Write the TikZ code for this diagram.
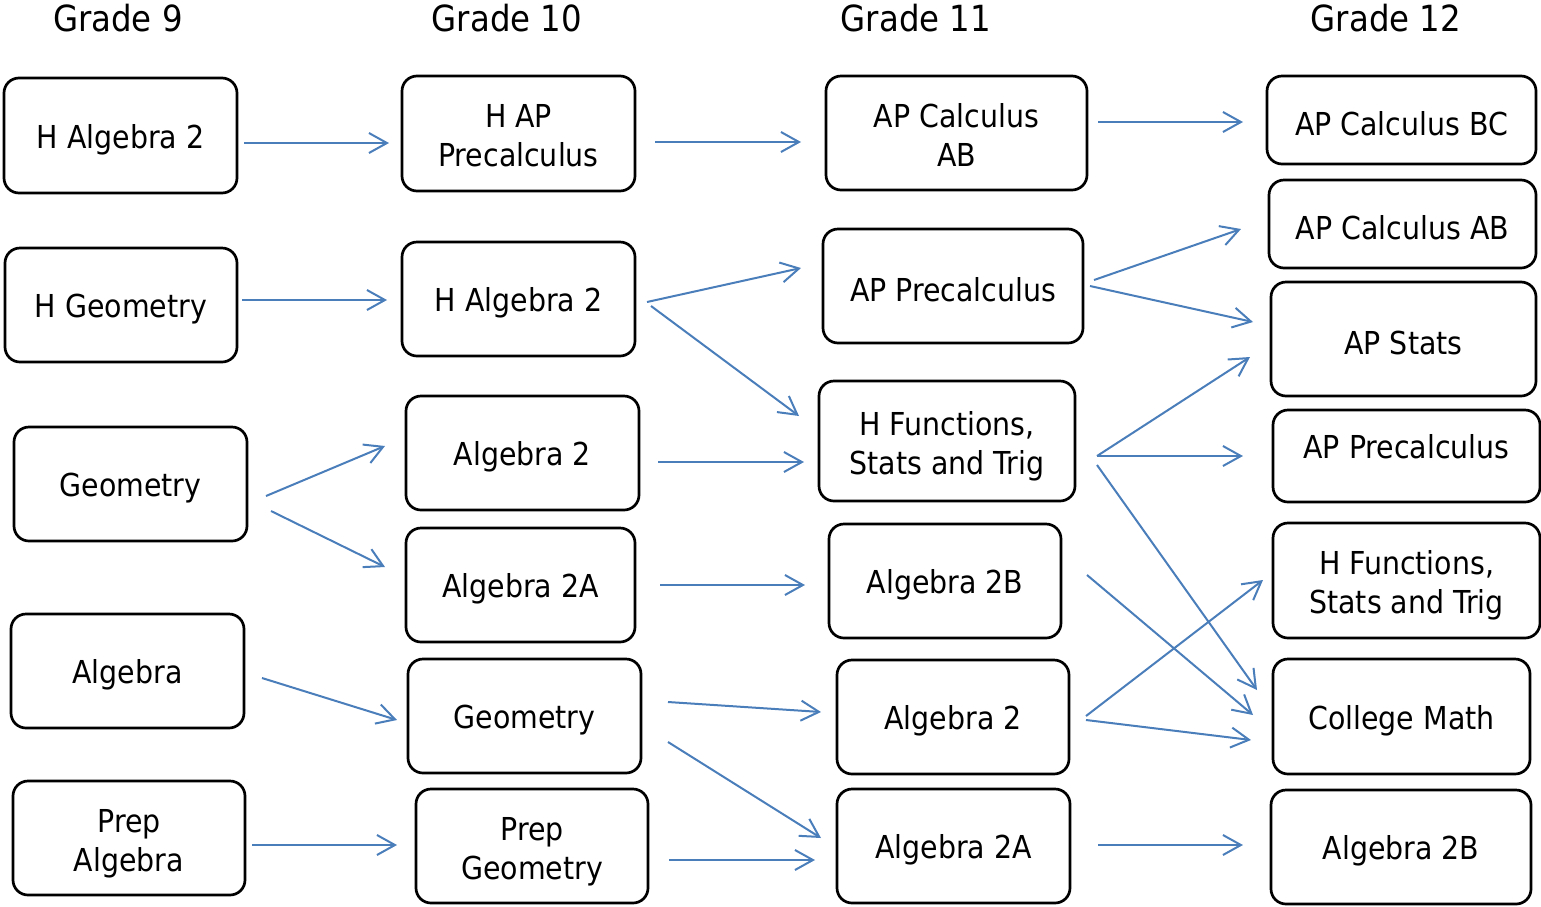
\documentclass[tikz,border=0pt]{standalone}
\usepackage{fontspec}
\setmainfont{DejaVu Sans Condensed}
\usetikzlibrary{arrows.meta,calc}
\definecolor{arrblue}{RGB}{74,126,187}
\newcommand\twolines[2]{\raisebox{-3pt}[\height][\depth]{\begin{tabular}{@{}c@{}}#1\\#2\end{tabular}}}
\begin{document}
\begin{tikzpicture}[x=0.5pt,y=-0.5pt,
  boxbase/.style={draw, rounded corners=7.5pt, line width=1.35pt, align=center, inner sep=0pt, outer sep=0pt,
    font=\fontsize{15.8}{19.4}\selectfont, minimum height=57pt},
  box/.style={boxbase, execute at begin node={\rule{0pt}{16pt}}},
  hdr/.style={font=\fontsize{18}{21}\selectfont, inner sep=0pt},
  arr/.style={draw=arrblue, line width=1pt, -{Straight Barb[length=9pt,width=10pt,line width=1pt]}}]
\useasboundingbox (0,0) rectangle (1541,906);
% headers
\node[hdr] (h9) at (118,18) {Grade 9};
\node[hdr] (h10) at (507,18) {Grade 10};
\node[hdr] (h11) at (916,18) {Grade 11};
\node[hdr] (h12) at (1386,18) {Grade 12};
% Grade 9
\node[box, minimum width=116.5pt, minimum height=57.5pt] (g9a) at (120.5,135.5) {H Algebra 2};
\node[box, minimum width=116pt] (g9b) at (121,305) {H Geometry};
\node[box, minimum width=116.5pt] (g9c) at (130.5,484) {Geometry};
\node[box, minimum width=116.5pt] (g9d) at (127.5,671) {Algebra};
\node[boxbase, minimum width=116pt] (g9e) at (129,838) {\twolines{Prep}{Algebra}};
% Grade 10
\node[boxbase, minimum width=116.5pt, minimum height=57.5pt] (g10a) at (518.5,133.5) {\twolines{H AP}{Precalculus}};
\node[box, minimum width=116.5pt] (g10b) at (518.5,299) {H Algebra 2};
\node[box, minimum width=116.5pt] (g10c) at (522.5,453) {Algebra 2};
\node[box, minimum width=114.5pt] (g10d) at (520.5,585) {Algebra 2A};
\node[box, minimum width=116.5pt] (g10e) at (524.5,716) {Geometry};
\node[boxbase, minimum width=116pt] (g10f) at (532,846) {\twolines{Prep}{Geometry}};
% Grade 11
\node[boxbase, minimum width=130.5pt] (g11a) at (956.5,133) {\twolines{AP Calculus}{AB}};
\node[box, minimum width=130pt] (g11b) at (953,286) {AP Precalculus};
\node[boxbase, minimum width=128pt, minimum height=60pt] (g11c) at (947,441) {\twolines{H Functions,}{Stats and Trig}};
\node[box, minimum width=116pt] (g11d) at (945,581) {Algebra 2B};
\node[box, minimum width=116pt] (g11e) at (953,717) {Algebra 2};
\node[box, minimum width=116.5pt] (g11f) at (953.5,846) {Algebra 2A};
% Grade 12
\node[box, minimum width=134.5pt, minimum height=44pt] (g12a) at (1401.5,120) {AP Calculus BC};
\node[box, minimum width=133.5pt, minimum height=44pt] (g12b) at (1402.5,224) {AP Calculus AB};
\node[box, minimum width=132.5pt] (g12c) at (1403.5,339) {AP Stats};
\node[boxbase, minimum width=133.5pt, minimum height=46pt] (g12d) at (1406.5,456) {\raisebox{-1pt}[0pt][0pt]{AP Precalculus}};
\node[boxbase, minimum width=133.5pt, minimum height=57.5pt] (g12e) at (1406.5,580.5) {\twolines{H Functions,}{Stats and Trig}};
\node[box, minimum width=128.5pt, minimum height=57.5pt] (g12f) at (1401.5,716.5) {College Math};
\node[box, minimum width=130pt] (g12g) at (1401,847) {Algebra 2B};
% arrows
\draw[arr] ($(g9a.east)+(7,7.5)$) -- ($(g10a.west)+(-13,9.5)$);
\draw[arr] ($(g10a.east)+(20,8.5)$) -- ($(g11a.west)+(-25,9)$);
\draw[arr] ($(g11a.east)+(11,-11)$) -- ($(g12a.west)+(-24,2)$);
\draw[arr] ($(g9b.east)+(5,-5)$) -- ($(g10b.west)+(-15,1)$);
\draw[arr] ($(g10b.east)+(12,3)$) -- ($(g11b.west)+(-22,-18)$);
\draw[arr] ($(g10b.east)+(16,7)$) -- ($(g11c.west)+(-20,-25)$);
\draw[arr] ($(g11b.east)+(11,-6)$) -- ($(g12b.west)+(-28,5)$);
\draw[arr] ($(g11b.east)+(7,0)$) -- ($(g12c.west)+(-18,-17)$);
\draw[arr] ($(g9c.east)+(19,12)$) -- ($(g10c.west)+(-21,-7)$);
\draw[arr] ($(g9c.east)+(24,27)$) -- ($(g10d.west)+(-21,-18)$);
\draw[arr] ($(g10c.east)+(19,9)$) -- ($(g11c.west)+(-15,21)$);
\draw[arr] ($(g11c.east)+(22,15)$) -- ($(g12c.west)+(-21,18)$);
\draw[arr] ($(g11c.east)+(22,15)$) -- ($(g12d.west)+(-30,0)$);
\draw[arr] ($(g11c.east)+(22,24)$) -- ($(g12f.west)+(-16,-26.5)$);
\draw[arr] ($(g10d.east)+(25,0)$) -- ($(g11d.west)+(-24,4)$);
\draw[arr] ($(g11d.east)+(26,-6)$) -- ($(g12f.west)+(-20,-1.5)$);
\draw[arr] ($(g9d.east)+(18,7)$) -- ($(g10e.west)+(-11,4)$);
\draw[arr] ($(g10e.east)+(27,-14)$) -- ($(g11e.west)+(-16,-5)$);
\draw[arr] ($(g10e.east)+(27,26)$) -- ($(g11f.west)+(-16,-8)$);
\draw[arr] ($(g11e.east)+(17,-1)$) -- ($(g12e.west)+(-10,-0.5)$);
\draw[arr] ($(g11e.east)+(17,3)$) -- ($(g12f.west)+(-22,23.5)$);
\draw[arr] ($(g9e.east)+(7,7)$) -- ($(g10f.west)+(-19,-1)$);
\draw[arr] ($(g10f.east)+(21,14)$) -- ($(g11f.west)+(-22,14)$);
\draw[arr] ($(g11f.east)+(28,-1)$) -- ($(g12g.west)+(-28,-2)$);
\end{tikzpicture}
\end{document}
